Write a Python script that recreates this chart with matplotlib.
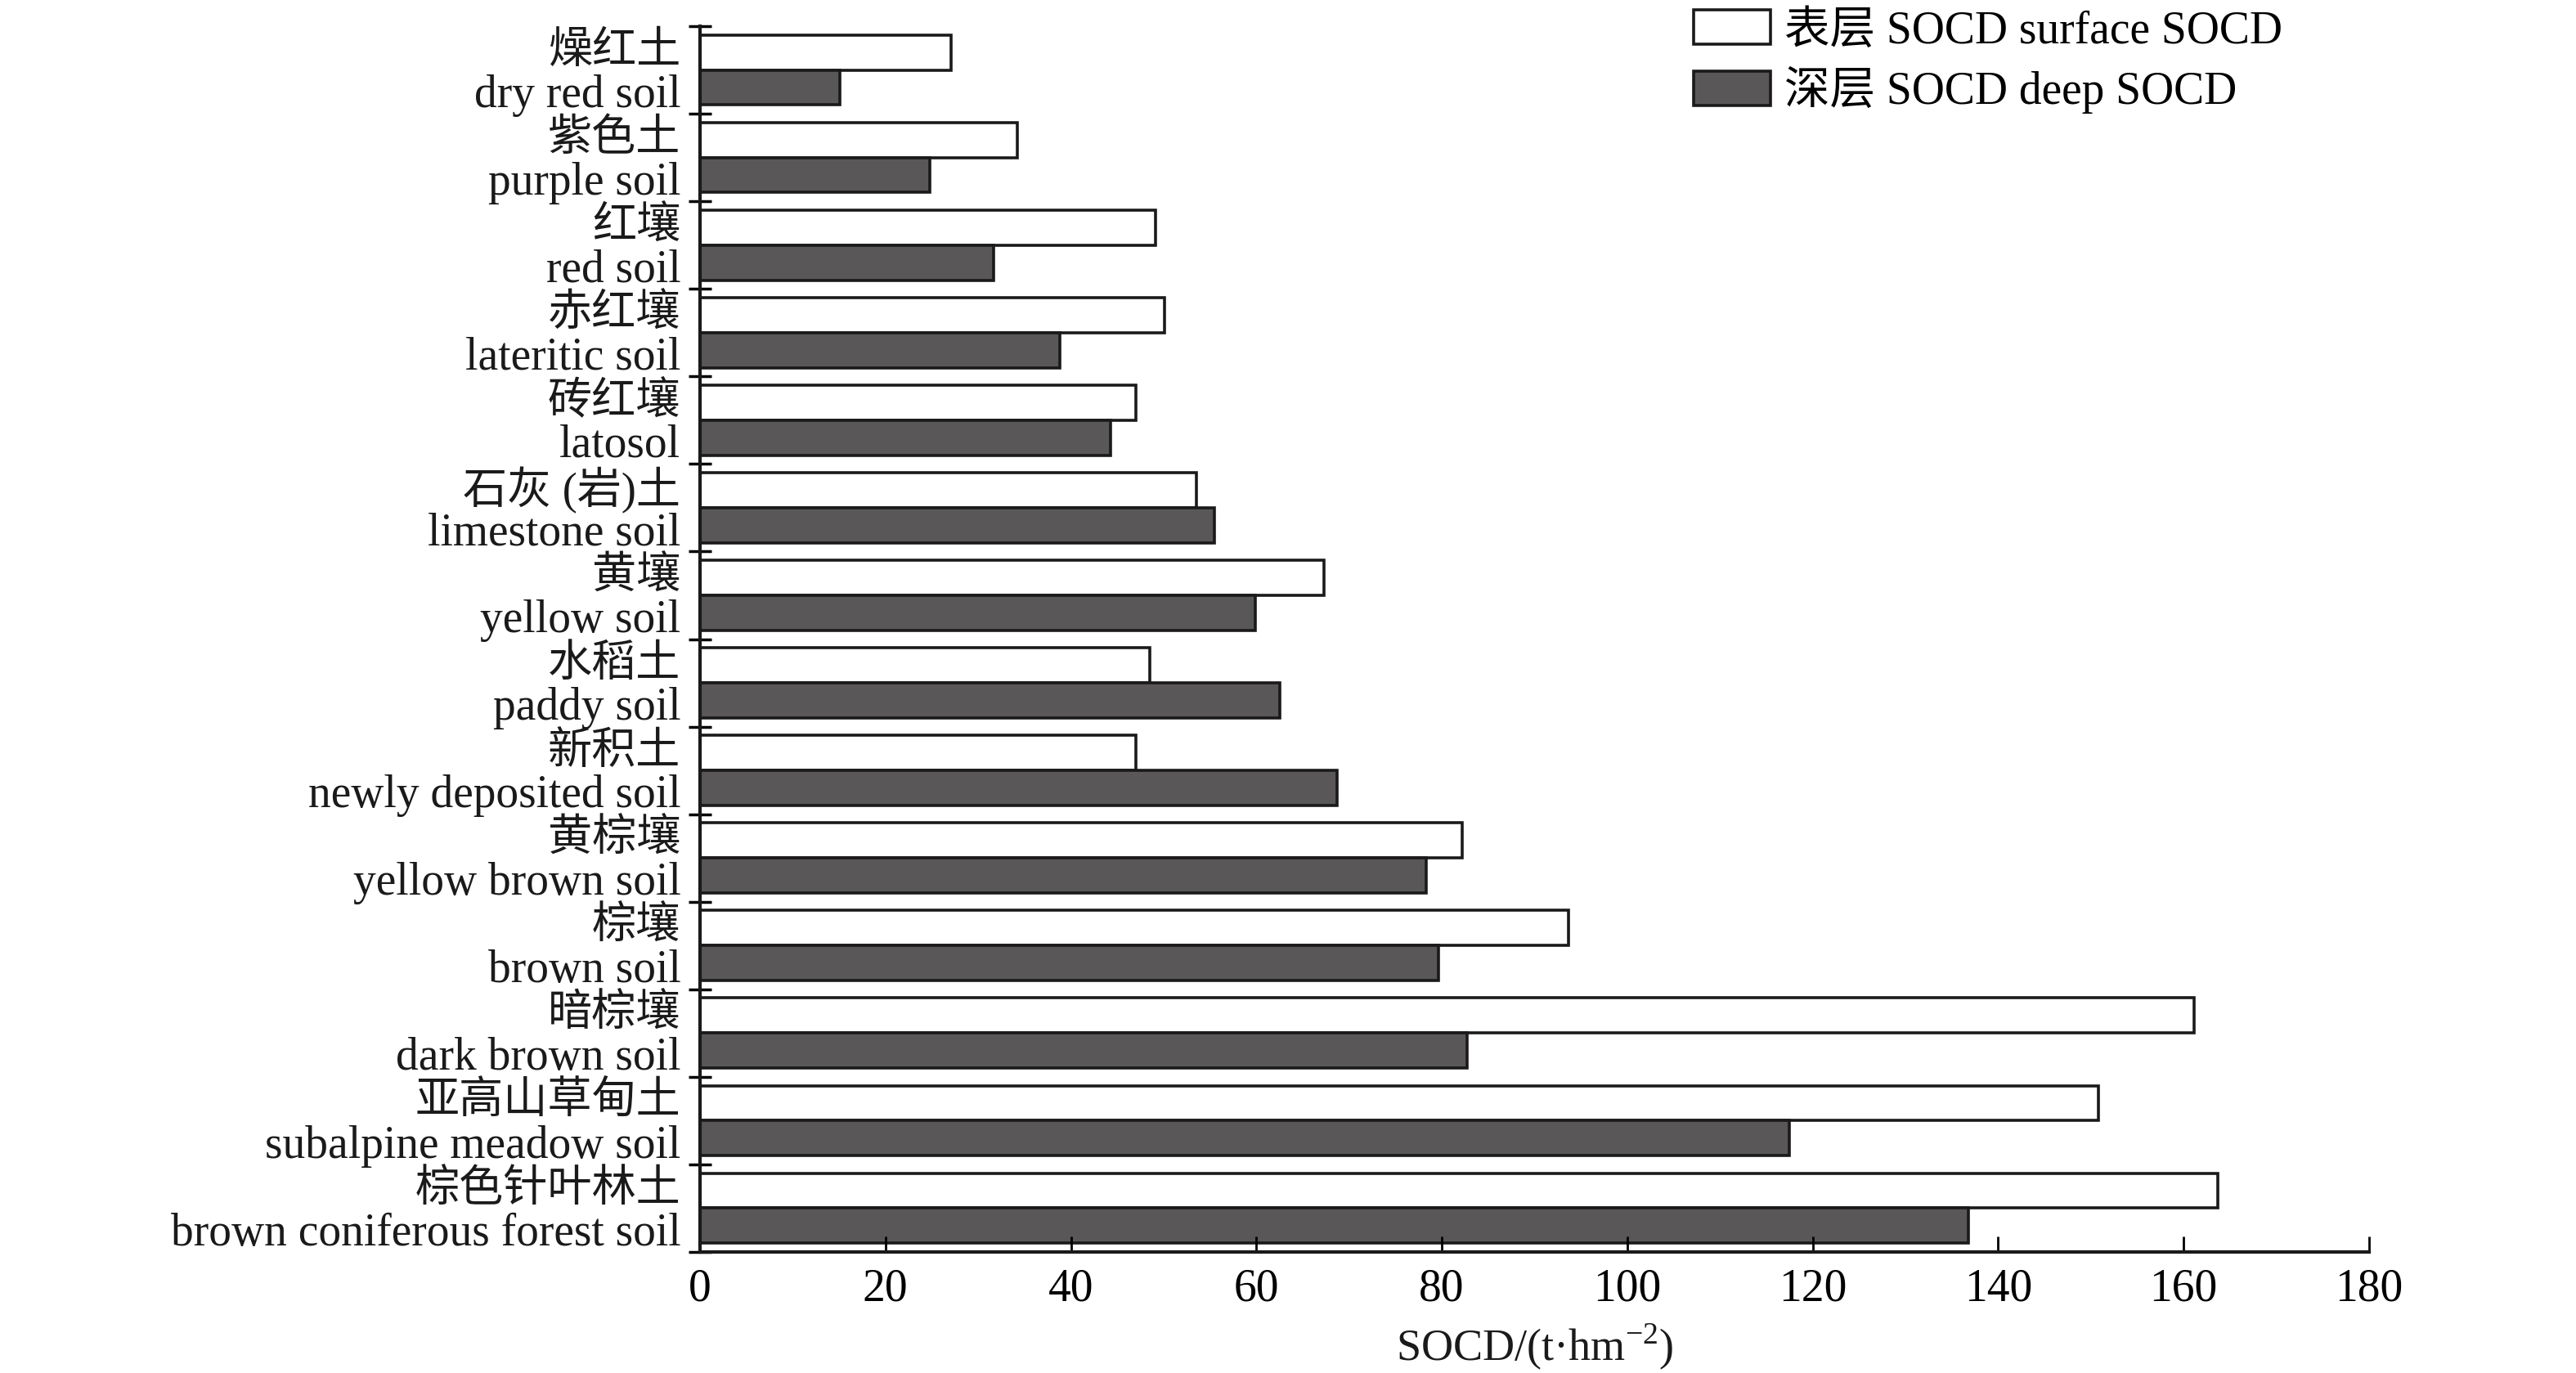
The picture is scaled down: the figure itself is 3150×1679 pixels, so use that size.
import matplotlib
matplotlib.use("Agg")
import matplotlib.pyplot as plt
import numpy as np

plt.rcParams['font.family'] = ['Liberation Serif', 'Noto Sans CJK SC']
plt.rcParams['mathtext.fontset'] = 'custom'
plt.rcParams['mathtext.rm'] = 'Liberation Serif'

cn_labels = ["燥红土", "紫色土", "红壤", "赤红壤", "砖红壤", "石灰 (岩)土", "黄壤",
             "水稻土", "新积土", "黄棕壤", "棕壤", "暗棕壤", "亚高山草甸土", "棕色针叶林土"]
en_labels = ["dry red soil", "purple soil", "red soil", "lateritic soil", "latosol",
             "limestone soil", "yellow soil", "paddy soil", "newly deposited soil",
             "yellow brown soil", "brown soil", "dark brown soil",
             "subalpine meadow soil", "brown coniferous forest soil"]
surface = [27.1, 34.2, 49.1, 50.1, 47.0, 53.5, 67.3, 48.5, 47.0, 82.2, 93.7, 161.1, 150.8, 163.7]
deep = [15.1, 24.8, 31.7, 38.8, 44.3, 55.5, 59.9, 62.5, 68.7, 78.3, 79.6, 82.7, 117.5, 136.8]
xticks = [0, 20, 40, 60, 80, 100, 120, 140, 160, 180]
legend_labels = ["表层 SOCD surface SOCD", "深层 SOCD deep SOCD"]

fig = plt.figure(figsize=(31.5, 16.79), dpi=100)
ax = fig.add_axes([856/3150, 1-1531/1679, (2897-856)/3150, (1531-32)/1679])

y = np.arange(len(cn_labels))
h = 0.4
lw = 2.6
ax.barh(y - h/2, surface, height=h, color='white', edgecolor='#1a1a1a', linewidth=lw,
        label=legend_labels[0])
ax.barh(y + h/2, deep, height=h, color='#595757', edgecolor='#1a1a1a', linewidth=lw,
        label=legend_labels[1])

ax.set_ylim(len(cn_labels) - 0.5, -0.5)
ax.set_xlim(0, 180)
ax.set_yticks(np.arange(-0.5, len(cn_labels), 1.0))
ax.set_yticklabels([])
ax.tick_params(axis='y', direction='inout', length=20, width=2.5)
ax.set_xticks(xticks)
ax.set_xticklabels([str(v) for v in xticks])
ax.tick_params(axis='x', direction='in', length=14, width=2.0, labelsize=40, pad=14)

for s in ['top', 'right']:
    ax.spines[s].set_visible(False)
for s in ['left', 'bottom']:
    ax.spines[s].set_linewidth(3.0)
    ax.spines[s].set_color('#1a1a1a')

for i in range(len(cn_labels)):
    ax.annotate(cn_labels[i], xy=(0, y[i] - h/2), xycoords=('axes fraction', 'data'),
                xytext=(-17, 0), textcoords='offset points', ha='right', va='center',
                fontsize=39, color='#1a1a1a')
    ax.annotate(en_labels[i], xy=(0, y[i] + h/2), xycoords=('axes fraction', 'data'),
                xytext=(-17, -7), textcoords='offset points', ha='right', va='center',
                fontsize=40, color='#1a1a1a')

ax.set_xlabel("SOCD/(t·hm$^{-2}$)", fontsize=39, labelpad=10, color='#1a1a1a')

leg = fig.legend(loc='upper left', bbox_to_anchor=(2071/3150, 1 - 12/1679), frameon=False,
                 fontsize=40, handlelength=1.7, handleheight=0.8, handletextpad=0.3,
                 labelspacing=0.3, borderpad=0, borderaxespad=0)

fig.savefig("out.png", dpi=100)
